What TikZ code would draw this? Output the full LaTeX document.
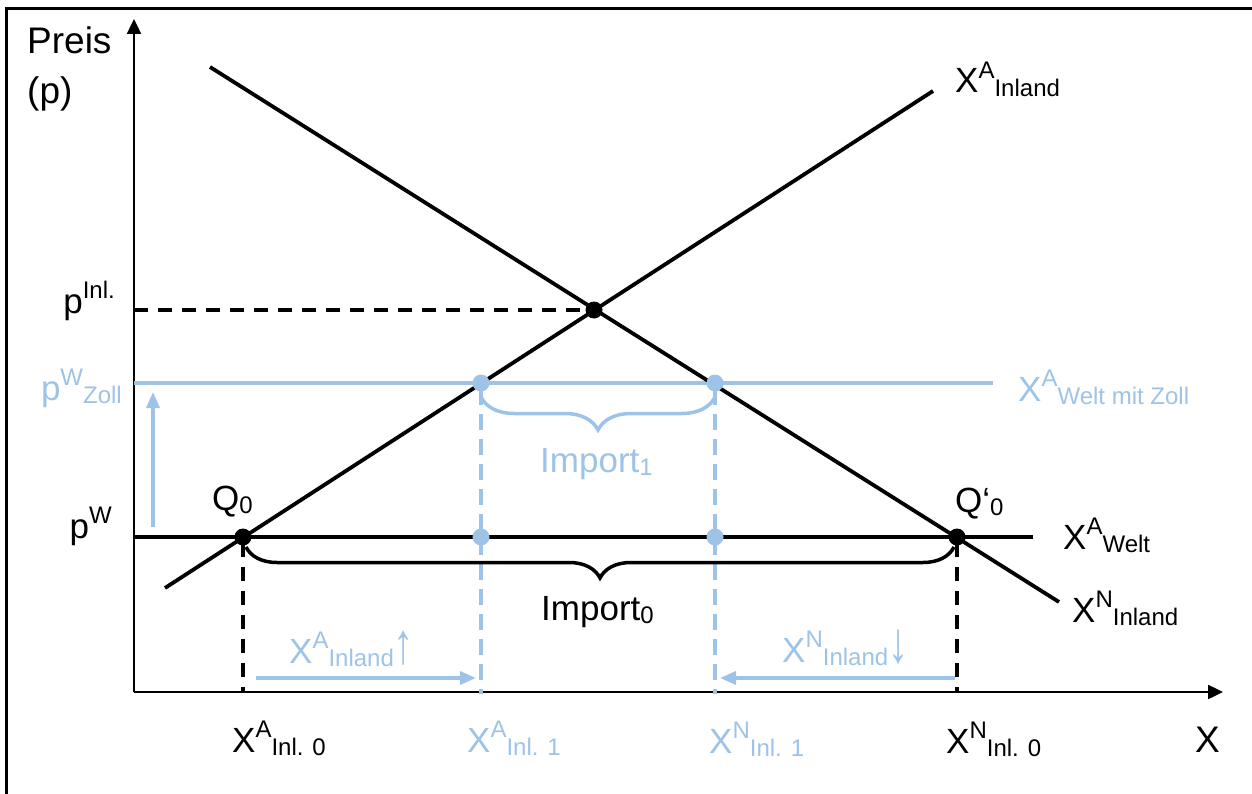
\documentclass[tikz,border=0pt]{standalone}
\usepackage{fontspec}
\setmainfont{Liberation Sans}
\usetikzlibrary{arrows.meta,decorations.pathreplacing}
\definecolor{lb}{RGB}{157,195,230}
\newcommand\scr{\fontsize{24}{24}\selectfont}
\newcommand\SupSub[2]{\raisebox{0.42em}{\scr #1}\raisebox{-0.1em}{\scr #2}}
\newcommand\SupOnly[1]{\raisebox{0.42em}{\scr #1}}
\newcommand\SubOnly[1]{\raisebox{-0.1em}{\scr #1}}
\newcommand\tallarrow[1]{\scalebox{1.15}[1.65]{#1}}
\begin{document}
\begin{tikzpicture}[x=1pt,y=-1pt,
  lab/.style={font=\fontsize{35}{42}\selectfont, inner sep=0pt, anchor=base west},
  biglab/.style={lab, font=\fontsize{37}{44}\selectfont},
  curve/.style={line width=3.8pt, black},
  axis/.style={line width=2.4pt, -{Triangle[length=15pt,width=14pt]}},
  bdash/.style={line width=3.8pt, dash pattern=on 14pt off 10pt},
  ldash/.style={line width=3.5pt, lb, dash pattern=on 16pt off 9pt},
  bdot/.style={circle, fill=black, inner sep=0pt, minimum size=17pt},
  ldot/.style={circle, fill=lb, inner sep=0pt, minimum size=17pt},
  bracestyle/.style={decorate, decoration={brace, mirror, amplitude=#1}, line width=3.5pt},
  larrow/.style={line width=3.5pt, lb, -{Triangle[length=16pt,width=13pt]}}]

\useasboundingbox (0,0) rectangle (1252,794);
\draw[line width=3pt] (6,794) -- (6,9) -- (1252,9);

% axes
\coordinate (O) at (134,692);
\coordinate (ytip) at (134,19);
\coordinate (xtip) at (1223,692);
\draw[axis] (O) -- (ytip);
\draw[axis] (O) -- (xtip);

% key points
\coordinate (s1) at (165,588);
\coordinate (s2) at (933,91);
\coordinate (d1) at (210,67);
\coordinate (d2) at (1059,602);
\coordinate (yInl) at (134,310);
\coordinate (yZ) at (134,383);
\coordinate (zEnd) at (993,383);
\coordinate (yW) at (134,537);
\coordinate (wEnd) at (1033,537);

% horizontal price lines
\draw[line width=3.8pt, lb] (yZ) -- (zEnd);
\draw[line width=3.8pt] (yW) -- (wEnd);

% curves
\draw[curve] (s1) -- (s2);
\draw[curve] (d1) -- (d2);

% dots
\node[bdot] (E) at (594,310) {};
\node[bdot] (Q0) at (243,537) {};
\node[bdot] (Q1) at (957,537) {};
\node[ldot] (A1) at (481,383) {};
\node[ldot] (N1) at (715,383) {};
\node[ldot] (A0) at (481,537) {};
\node[ldot] (N0) at (715,537) {};

% dashed lines
\draw[bdash] (yInl) -- (E.center);
\coordinate (q0b) at (243,692);
\coordinate (q1b) at (957,692);
\draw[bdash] (Q0.center) ++(0,6) -- (q0b);
\draw[bdash] (Q1.center) ++(0,6) -- (q1b);
\coordinate (a1b) at (481,694);
\coordinate (n1b) at (715,694);
\draw[ldash] (A1.center) ++(0,6) -- (a1b);
\draw[ldash] (N1.center) ++(0,6) -- (n1b);

% tariff arrow
\coordinate (u1) at (153,527);
\coordinate (u2) at (153,392);
\draw[larrow] (u1) -- (u2);

% braces
\coordinate (b1l) at (481,397);
\coordinate (b1r) at (715,397);
\draw[bracestyle=33pt, lb] (b1l) -- (b1r);
\coordinate (b0l) at (246,547);
\coordinate (b0r) at (954,547);
\draw[bracestyle=31pt] (b0l) -- (b0r);

% bottom arrows
\coordinate (ha1) at (256,678);
\coordinate (ha2) at (476,678);
\coordinate (hn1) at (955,678);
\coordinate (hn2) at (720,678);
\draw[larrow] (ha1) -- (ha2);
\draw[larrow] (hn1) -- (hn2);

% labels
\node[biglab] (preis) at (27,54) {Preis};
\node[biglab] (pp) at (27,104) {(p)};
\node[lab, anchor=base east] (pInl) at (115,313) {p\SupOnly{Inl.}};
\node[lab, anchor=base east, text=lb] (pZ) at (122,400) {p\SupSub{W}{Zoll}};
\node[lab, anchor=base east] (pW) at (112,538) {p\SupOnly{W}};
\node[lab] (lS) at (955,93) {X\SupSub{A}{Inland}};
\node[lab, text=lb] (lZ) at (1018,401) {X\SupSub{A}{Welt mit Zoll}};
\node[lab] (lW) at (1063,549) {X\SupSub{A}{Welt}};
\node[lab] (lD) at (1072,622) {X\SupSub{N}{Inland}};
\node[lab] (q0l) at (212,510) {Q\SubOnly{0}};
\node[lab] (q1l) at (955,512) {Q‘\SubOnly{0}};
\node[lab, text=lb] (imp1) at (540,472) {Import\SubOnly{1}};
\node[lab] (imp0) at (541,620) {Import\SubOnly{0}};
\node[lab, text=lb] (la) at (289,663) {X\SupSub{A}{Inland}\tallarrow{↑}};
\node[lab, text=lb] (ln) at (782,662) {X\SupSub{N}{Inland}\tallarrow{↓}};
\node[lab] (x0a) at (232,752) {X\SupSub{A}{Inl. 0}};
\node[lab, text=lb] (x1a) at (467,752) {X\SupSub{A}{Inl. 1}};
\node[lab, text=lb] (x1n) at (709,753) {X\SupSub{N}{Inl. 1}};
\node[lab] (x0n) at (946,753) {X\SupSub{N}{Inl. 0}};
\node[biglab] (xl) at (1195,752) {X};
\end{tikzpicture}
\end{document}
